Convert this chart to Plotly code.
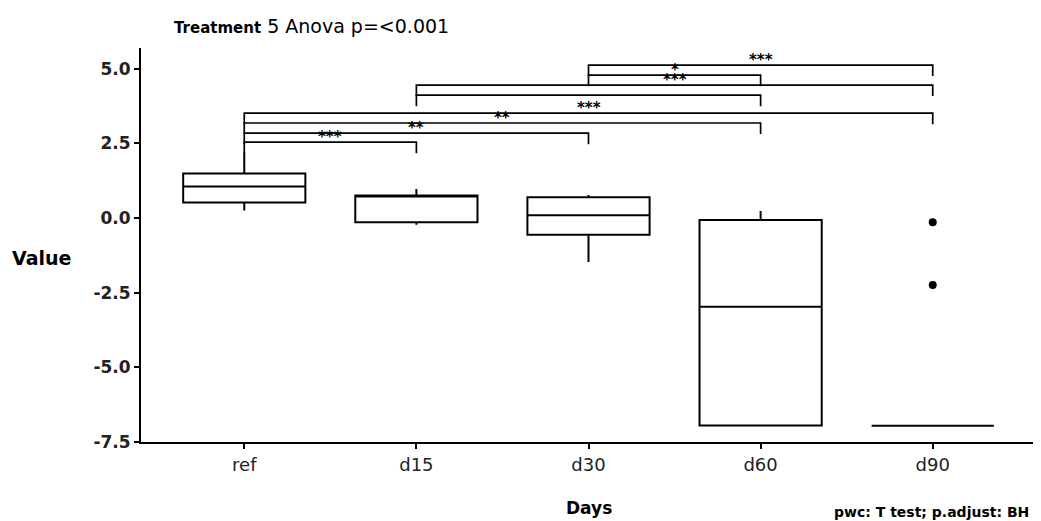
import plotly.graph_objects as go

# ---------------- data ----------------
categories = ["ref", "d15", "d30", "d60", "d90"]
q1 = [0.52, -0.14, -0.56, -6.95, -6.96]
median = [1.05, 0.72, 0.09, -2.97, -6.96]
q3 = [1.49, 0.75, 0.69, -0.07, -6.96]
lower_whisker = [0.25, -0.23, -1.47, -6.95, -6.96]
upper_whisker = [2.20, 0.97, 0.77, 0.23, -6.96]

outlier_group = ["d90", "d90"]
outlier_values = [-0.14, -2.24]

# pairwise comparison brackets (group1, group2, y position, label; "" = hidden ns)
bracket_g1 = ["ref", "ref", "ref", "ref", "d15", "d15", "d30", "d30"]
bracket_g2 = ["d15", "d30", "d60", "d90", "d60", "d90", "d60", "d90"]
bracket_y = [2.54, 2.84, 3.18, 3.51, 4.11, 4.45, 4.78, 5.12]
bracket_labels = ["***", "**", "**", "***", "", "***", "*", "***"]

y_ticks = [-7.5, -5.0, -2.5, 0.0, 2.5, 5.0]
y_tick_labels = ["-7.5", "-5.0", "-2.5", "0.0", "2.5", "5.0"]

# ---------------- style ----------------
BOX_WIDTH = 0.71
TIP = 0.37
FONT = "DejaVu Sans"
OFF = 8  # page body margin in the browser

fig = go.Figure()

fig.add_trace(go.Box(
    x=categories, q1=q1, median=median, q3=q3,
    lowerfence=lower_whisker, upperfence=upper_whisker,
    width=BOX_WIDTH, whiskerwidth=0,
    fillcolor="white", line=dict(color="black", width=2),
    boxpoints=False, showlegend=False, hoverinfo="skip",
))

# thicker median lines (ggplot fatten)
idx = {c: i for i, c in enumerate(categories)}
for c, m in zip(categories, median):
    i = idx[c]
    fig.add_trace(go.Scatter(
        x=[i - BOX_WIDTH / 2, i + BOX_WIDTH / 2], y=[m, m], mode="lines",
        line=dict(color="black", width=3.4), showlegend=False, hoverinfo="skip",
    ))

fig.add_trace(go.Scatter(
    x=outlier_group, y=outlier_values, mode="markers",
    marker=dict(color="black", size=8), showlegend=False, hoverinfo="skip",
))

annotations = []
for g1, g2, yb, lab in zip(bracket_g1, bracket_g2, bracket_y, bracket_labels):
    fig.add_trace(go.Scatter(
        x=[g1, g1, g2, g2], y=[yb - TIP, yb, yb, yb - TIP], mode="lines",
        line=dict(color="black", width=1.7), showlegend=False, hoverinfo="skip",
    ))
    if lab:
        annotations.append(dict(
            x=(idx[g1] + idx[g2]) / 2, y=yb, xref="x", yref="y",
            text="<b>" + lab + "</b>", showarrow=False, yanchor="bottom", yshift=-6,
            font=dict(family=FONT, size=15, color="black"),
        ))

W, H = 1041 - OFF, 521 - OFF
L, R, T, B = 141 - OFF, 5, 48 - OFF, 79

def px_to_paper(px, py):
    px -= OFF
    py -= OFF
    return (px - L) / (W - L - R), 1 - (py - T) / (H - T - B)

extra = [
    (dict(text="<b><span style='font-size:15px'>Treatment</span></b> 5 Anova p=&lt;0.001",
          font=dict(family=FONT, size=19, color="black"), xanchor="left", yanchor="middle"),
     (172, 26)),
    (dict(text="<b>Value</b>", font=dict(family=FONT, size=19, color="black"),
          xanchor="center", yanchor="middle"), (41, 258)),
    (dict(text="<b>Days</b>", font=dict(family=FONT, size=17, color="black"),
          xanchor="center", yanchor="middle"), (589, 508)),
    (dict(text="<b>pwc: T test; p.adjust: BH</b>", font=dict(family=FONT, size=14, color="black"),
          xanchor="right", yanchor="middle"), (1031, 512)),
]
for a, (px, py) in extra:
    a["x"], a["y"] = px_to_paper(px, py)
    a["xref"], a["yref"] = "paper", "paper"
    a["showarrow"] = False
    annotations.append(a)

fig.update_layout(
    width=W, height=H,
    margin=dict(l=L, r=R, t=T, b=B),
    plot_bgcolor="white", paper_bgcolor="white",
    annotations=annotations,
    font=dict(family=FONT, color="black"),
)
fig.update_xaxes(
    type="category", categoryorder="array", categoryarray=categories,
    range=[-0.6, 4.6], showline=True, linecolor="black", linewidth=2,
    ticks="outside", ticklen=5, tickwidth=2, tickcolor="black",
    showgrid=False, zeroline=False,
    tickfont=dict(family=FONT, size=18, color="#222222"),
)
fig.update_yaxes(
    range=[-7.5, 5.69], tickvals=y_tick_vals if False else y_ticks,
    ticktext=["<b>" + t + "</b>" for t in y_tick_labels],
    showline=True, linecolor="black", linewidth=2,
    ticks="outside", ticklen=5, tickwidth=2, tickcolor="black",
    showgrid=False, zeroline=False,
    tickfont=dict(family=FONT, size=17, color="#222222"),
)

fig.write_html("out.html")
